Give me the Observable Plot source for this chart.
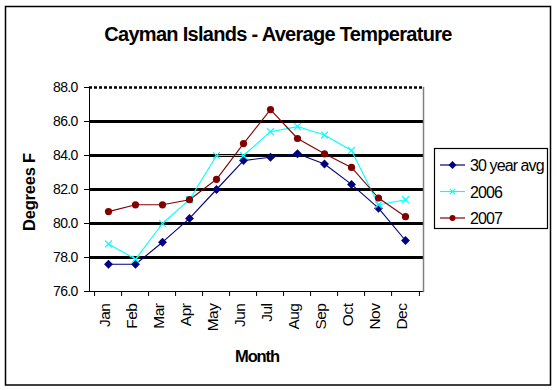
<!DOCTYPE html>
<html>
<head>
<meta charset="utf-8">
<script src="https://cdn.jsdelivr.net/npm/d3@7"></script>
<script src="https://cdn.jsdelivr.net/npm/@observablehq/plot@0.6"></script>
<style>
  html, body { margin: 0; padding: 0; background: #fff; }
  #chart { position: relative; width: 557px; height: 390px; }
</style>
</head>
<body>
<div id="chart"></div>
<script>
const months = ["Jan","Feb","Mar","Apr","May","Jun","Jul","Aug","Sep","Oct","Nov","Dec"];
const avg30 = [77.6, 77.6, 78.9, 80.3, 82.0, 83.7, 83.9, 84.1, 83.5, 82.3, 80.9, 79.0];
const y2006 = [78.8, 77.9, 80.0, 81.4, 84.0, 84.0, 85.4, 85.7, 85.2, 84.3, 81.1, 81.4];
const y2007 = [80.7, 81.1, 81.1, 81.4, 82.6, 84.7, 86.7, 85.0, 84.1, 83.3, 81.5, 80.4];
const yTicks = [76, 78, 80, 82, 84, 86, 88];
const seriesNames = ["30 year avg", "2006", "2007"];
const seriesColors = ["#000080", "#00FFFF", "#800000"];
const titleText = "Cayman Islands - Average Temperature";
const xLabel = "Month";
const yLabel = "Degrees F";

const toRows = (vals, name) => vals.map((v, i) => ({month: months[i], temp: v, series: name}));
const rows = [toRows(avg30, seriesNames[0]), toRows(y2006, seriesNames[1]), toRows(y2007, seriesNames[2])];

const W = 557, H = 390;
const mL = 89, mR = 134, mT = 87, mB = 99;
const step = (W - mL - mR) / months.length;
const font = "'Liberation Sans', Arial, sans-serif";

const plot = Plot.plot({
  width: W, height: H,
  marginLeft: mL, marginRight: mR, marginTop: mT, marginBottom: mB,
  style: {fontFamily: font, background: "transparent", overflow: "visible"},
  x: {type: "point", domain: months, padding: 0.5, align: 0.5},
  y: {domain: [76, 88], ticks: yTicks},
  marks: [
    // gridlines
    Plot.ruleY(yTicks.filter(d => d > 76 && d < 88), {stroke: "#000", strokeWidth: 3}),
    Plot.ruleY([88], {stroke: "#000", strokeWidth: 2.5, strokeDasharray: "3,2"}),
    Plot.ruleY([76], {stroke: "#000", strokeWidth: 1}),
    Plot.frame({anchor: "left", stroke: "#000", strokeWidth: 1}),
    Plot.frame({anchor: "right", stroke: "#808080", strokeWidth: 1.5}),
    // y axis
    Plot.axisY({ticks: yTicks, tickFormat: d3.format(".1f"), tickSize: 5, tickPadding: 7,
      fontSize: 14, label: null, stroke: "#000", color: "#000"}),
    // x boundary ticks
    Plot.axisX({tickSize: 5, tickFormat: null, label: null, dx: -step / 2}),
    Plot.axisX(["Dec"], {tickSize: 5, tickFormat: null, label: null, dx: step / 2}),
    // x tick labels
    Plot.axisX({tickSize: 0, tickRotate: -90, tickPadding: 12, fontSize: 15.5, label: null, dx: -3}),
    // lines
    Plot.line(rows[0], {x: "month", y: "temp", stroke: seriesColors[0], strokeWidth: 1.1}),
    Plot.line(rows[1], {x: "month", y: "temp", stroke: seriesColors[1], strokeWidth: 1.1}),
    Plot.line(rows[2], {x: "month", y: "temp", stroke: seriesColors[2], strokeWidth: 1.1}),
    Plot.dot(rows[0], {x: "month", y: "temp", symbol: "diamond2", fill: seriesColors[0], r: 4}),
    Plot.dot(rows[1], {x: "month", y: "temp", symbol: "times", stroke: seriesColors[1], strokeWidth: 1.2, r: 3.2}),
    Plot.dot(rows[2], {x: "month", y: "temp", symbol: "circle", fill: seriesColors[2], r: 3.6})
  ]
});

const svg = d3.select(plot);
svg.selectAll("g[aria-label='y-axis tick label'] text")
  .attr("letter-spacing", "-0.7px");
svg.selectAll("g[aria-label='x-axis tick label'] text")
  .attr("letter-spacing", "-0.5px");

// outer border
svg.insert("rect", ":first-child")
  .attr("x", 5.5).attr("y", 6.5).attr("width", 545).attr("height", 378.5)
  .attr("fill", "#fff").attr("stroke", "#000").attr("stroke-width", 1.5);

// title
svg.append("text").attr("x", 278).attr("y", 41).attr("text-anchor", "middle")
  .attr("font-family", font).attr("font-weight", "bold").attr("font-size", 20)
  .attr("letter-spacing", "-0.7px").attr("fill", "#000").text(titleText);

// axis labels
svg.append("text").attr("x", 257).attr("y", 362).attr("text-anchor", "middle")
  .attr("font-family", font).attr("font-weight", "bold").attr("font-size", 16.5)
  .attr("letter-spacing", "-1.1px").attr("fill", "#000").text(xLabel);
svg.append("text").attr("transform", "translate(35,192) rotate(-90)").attr("text-anchor", "middle")
  .attr("font-family", font).attr("font-weight", "bold").attr("font-size", 16.5)
  .attr("letter-spacing", "-0.2px").attr("fill", "#000").text(yLabel);

// legend
const lg = svg.append("g").attr("transform", "translate(434,148)").attr("text-anchor", "start");
lg.append("rect").attr("x", 0.5).attr("y", 0.5).attr("width", 113).attr("height", 80)
  .attr("fill", "#fff").attr("stroke", "#000").attr("stroke-width", 1.2);
const sym = [d3.symbolDiamond2, d3.symbolTimes, d3.symbolCircle];
seriesNames.forEach((name, i) => {
  const cy = 17 + i * 26.5;
  const g = lg.append("g").attr("transform", `translate(0,${cy})`);
  g.append("line").attr("x1", 6).attr("x2", 31).attr("y1", 0).attr("y2", 0)
    .attr("stroke", seriesColors[i]).attr("stroke-width", 1.2);
  const p = d3.symbol(sym[i], i === 0 ? 40 : i === 1 ? 20 : 28)();
  g.append("path").attr("d", p).attr("transform", "translate(18.5,0)")
    .attr("fill", i === 1 ? "none" : seriesColors[i])
    .attr("stroke", i === 1 ? seriesColors[i] : "none").attr("stroke-width", 1.2);
  g.append("text").attr("x", 36).attr("y", 6).attr("font-family", font).attr("font-size", 16)
    .attr("letter-spacing", "-0.9px").attr("fill", "#000").text(name);
});

document.getElementById("chart").appendChild(plot);
</script>
</body>
</html>
